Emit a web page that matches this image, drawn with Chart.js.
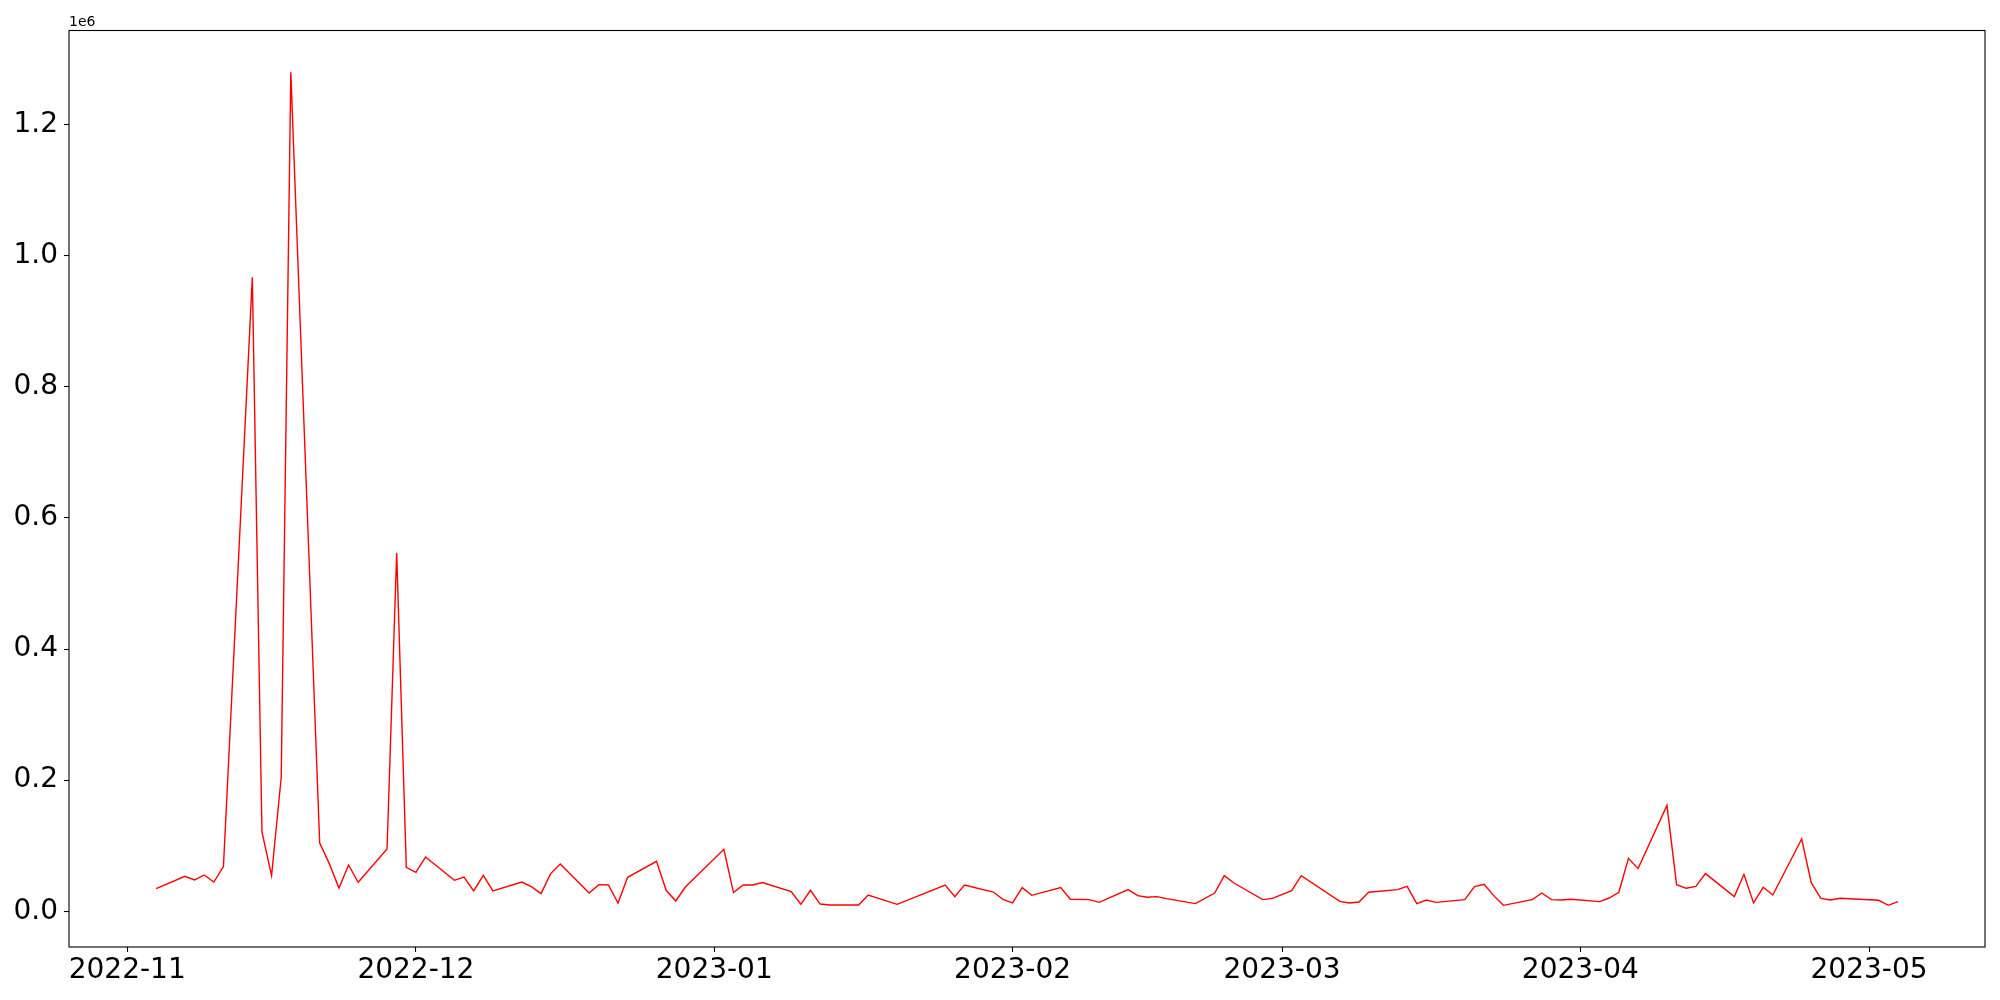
<!DOCTYPE html>
<html>
<head>
<meta charset="utf-8">
<script src="https://cdn.jsdelivr.net/npm/chart.js@4/dist/chart.umd.min.js"></script>
<style>
  body { margin: 0; background: #fff; }
</style>
</head>
<body>
<canvas id="myChart" width="2000" height="1000"></canvas>
<script>
// daily values (weekdays only, gaps are in the data)
var dates = [
  '2022-11-04', '2022-11-07', '2022-11-08', '2022-11-09', '2022-11-10', '2022-11-11',
  '2022-11-14', '2022-11-15', '2022-11-16', '2022-11-17', '2022-11-18',
  '2022-11-21', '2022-11-22', '2022-11-23', '2022-11-24', '2022-11-25',
  '2022-11-28', '2022-11-29', '2022-11-30', '2022-12-01', '2022-12-02',
  '2022-12-05', '2022-12-06', '2022-12-07', '2022-12-08', '2022-12-09',
  '2022-12-12', '2022-12-13', '2022-12-14', '2022-12-15', '2022-12-16',
  '2022-12-19', '2022-12-20', '2022-12-21', '2022-12-22', '2022-12-23',
  '2022-12-26', '2022-12-27', '2022-12-28', '2022-12-29',
  '2023-01-02', '2023-01-03', '2023-01-04', '2023-01-05', '2023-01-06',
  '2023-01-09', '2023-01-10', '2023-01-11', '2023-01-12', '2023-01-13',
  '2023-01-16', '2023-01-17', '2023-01-20',
  '2023-01-25', '2023-01-26', '2023-01-27',
  '2023-01-30', '2023-01-31', '2023-02-01', '2023-02-02', '2023-02-03',
  '2023-02-06', '2023-02-07', '2023-02-09', '2023-02-10',
  '2023-02-13', '2023-02-14', '2023-02-15', '2023-02-16', '2023-02-17',
  '2023-02-20', '2023-02-22', '2023-02-23', '2023-02-24',
  '2023-02-27', '2023-02-28', '2023-03-02', '2023-03-03',
  '2023-03-07', '2023-03-08', '2023-03-09', '2023-03-10',
  '2023-03-13', '2023-03-14', '2023-03-15', '2023-03-16', '2023-03-17',
  '2023-03-20', '2023-03-21', '2023-03-22', '2023-03-23', '2023-03-24',
  '2023-03-27', '2023-03-28', '2023-03-29', '2023-03-30', '2023-03-31',
  '2023-04-03', '2023-04-04', '2023-04-05', '2023-04-06', '2023-04-07',
  '2023-04-10', '2023-04-11', '2023-04-12', '2023-04-13', '2023-04-14',
  '2023-04-17', '2023-04-18', '2023-04-19', '2023-04-20', '2023-04-21',
  '2023-04-24', '2023-04-25', '2023-04-26', '2023-04-27', '2023-04-28',
  '2023-05-02', '2023-05-03', '2023-05-04'
];
var values = [
  34600, 53400, 47800, 55400, 44700, 68200,
  967000, 121000, 54400, 204000, 1280000,
  104000, 72700, 35500, 70600, 44200,
  95000, 547000, 67000, 59500, 82800,
  47300, 52300, 31000, 54900, 31000,
  44700, 37600, 27000, 57500, 72100,
  27900, 40700, 40100, 12700, 51800,
  76200, 32000, 15700, 37100,
  94500, 28500, 40100, 40100, 43800,
  30000, 10700, 32000, 11100, 9600,
  9600, 24900, 10700,
  40100, 22400, 40100,
  29400, 18300, 12700, 36100, 24400,
  36100, 18300, 17800, 13700,
  33100, 23900, 21400, 22400, 19400,
  11700, 27900, 54400, 43200,
  17800, 19800, 31600, 54400,
  15200, 12700, 14200, 29000,
  33100, 38100, 11700, 17200, 13700,
  17800, 37600, 41200, 23900, 9100,
  17800, 27900, 17800, 17200, 18300,
  14800, 20300, 29000, 80800, 65100,
  161600, 40700, 35100, 38100, 57500,
  22400, 56400, 12700, 36600, 24900,
  110300, 43200, 19800, 17200, 19800,
  16800, 9100, 14800
];
var monthTicks = ['2022-11-01', '2022-12-01', '2023-01-01', '2023-02-01', '2023-03-01', '2023-04-01', '2023-05-01'];
var monthLabels = ['2022-11', '2022-12', '2023-01', '2023-02', '2023-03', '2023-04', '2023-05'];
var yTicks = [0, 200000, 400000, 600000, 800000, 1000000, 1200000];
var yLabels = ['0.0', '0.2', '0.4', '0.6', '0.8', '1.0', '1.2'];

var times = dates.map(d => Date.parse(d));
var points = times.map((t, i) => ({ x: t, y: values[i] }));

// matplotlib-style 5% margins
var tMin = Math.min.apply(null, times), tMax = Math.max.apply(null, times);
var vMin = Math.min.apply(null, values), vMax = Math.max.apply(null, values);
var tPad = (tMax - tMin) * 0.05, vPad = (vMax - vMin) * 0.05;

var tickFont = { family: 'DejaVu Sans', size: 28 };

// box round the plot and the "1e6" offset text
var frame = {
  id: 'frame',
  afterDraw(chart) {
    var a = chart.chartArea, ctx = chart.ctx;
    ctx.save();
    ctx.strokeStyle = '#000';
    ctx.lineWidth = 1.1;
    ctx.strokeRect(a.left, a.top, a.right - a.left, a.bottom - a.top);
    ctx.fillStyle = '#000';
    ctx.font = '14px "DejaVu Sans"';
    ctx.textAlign = 'left';
    ctx.textBaseline = 'alphabetic';
    ctx.fillText('1e6', a.left, a.top - 4.3);
    ctx.restore();
  }
};

var ctx = document.getElementById('myChart').getContext('2d');
var myChart = new Chart(ctx, {
  type: 'line',
  data: {
    datasets: [{
      data: points,
      borderColor: '#ff0000',
      borderWidth: 1.4,
      pointRadius: 0,
      tension: 0,
      fill: false
    }]
  },
  options: {
    responsive: false,
    animation: false,
    devicePixelRatio: 1,
    layout: { padding: { top: 30.5, right: 15, left: 0, bottom: 0 } },
    plugins: { legend: { display: false }, tooltip: { enabled: false } },
    scales: {
      x: {
        type: 'linear',
        min: tMin - tPad,
        max: tMax + tPad,
        border: { display: false },
        grid: { drawOnChartArea: false, drawTicks: true, tickLength: 5, tickColor: '#000', tickWidth: 1.1 },
        ticks: {
          autoSkip: false,
          maxRotation: 0,
          padding: 2,
          color: '#000',
          font: tickFont,
          callback: function (v) {
            var i = monthTicks.findIndex(m => Date.parse(m) === v);
            return i >= 0 ? monthLabels[i] : '';
          }
        },
        afterBuildTicks: function (scale) {
          scale.ticks = monthTicks.map(m => ({ value: Date.parse(m) }));
        },
        afterFit: function (scale) { scale.height = 53; }
      },
      y: {
        type: 'linear',
        min: vMin - vPad,
        max: vMax + vPad,
        border: { display: false },
        grid: { drawOnChartArea: false, drawTicks: true, tickLength: 5, tickColor: '#000', tickWidth: 1.1 },
        ticks: {
          padding: 6,
          color: '#000',
          font: tickFont,
          callback: function (v) {
            var i = yTicks.indexOf(v);
            return i >= 0 ? yLabels[i] : '';
          }
        },
        afterBuildTicks: function (scale) {
          scale.ticks = yTicks.map(v => ({ value: v }));
        },
        afterFit: function (scale) { scale.width = 69; }
      }
    }
  },
  plugins: [frame]
});
</script>
</body>
</html>
